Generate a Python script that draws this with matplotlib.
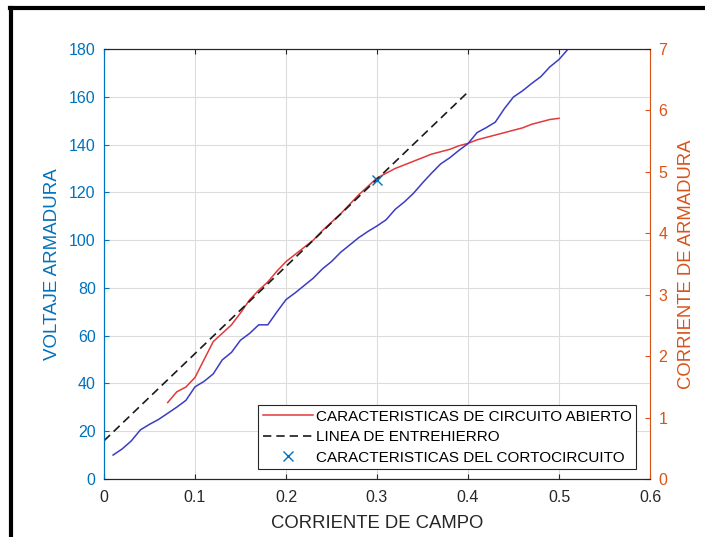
import matplotlib.pyplot as plt
from matplotlib.lines import Line2D

plt.rcParams['font.family'] = ['Liberation Sans', 'DejaVu Sans']

# corriente de campo (A)
campo = [0.01, 0.02, 0.03, 0.04, 0.05, 0.06, 0.07, 0.08, 0.09, 0.10,
         0.11, 0.12, 0.13, 0.14, 0.15, 0.16, 0.17, 0.18, 0.19, 0.20,
         0.21, 0.22, 0.23, 0.24, 0.25, 0.26, 0.27, 0.28, 0.29, 0.30,
         0.31, 0.32, 0.33, 0.34, 0.35, 0.36, 0.37, 0.38, 0.39, 0.40,
         0.41, 0.42, 0.43, 0.44, 0.45, 0.46, 0.47, 0.48, 0.49, 0.50, 0.51]

# corriente de armadura (cortocircuito), eje derecho
i_arm = [0.39, 0.49, 0.62, 0.80, 0.89, 0.97, 1.07, 1.17, 1.28, 1.50,
         1.59, 1.71, 1.94, 2.06, 2.26, 2.37, 2.51, 2.51, 2.72, 2.92,
         3.03, 3.15, 3.27, 3.42, 3.54, 3.69, 3.81, 3.93, 4.03, 4.12,
         4.22, 4.39, 4.51, 4.65, 4.82, 4.98, 5.13, 5.23, 5.35, 5.46,
         5.64, 5.72, 5.81, 6.03, 6.22, 6.32, 6.44, 6.55, 6.71, 6.83, 7.0]

# circuito abierto
campo_ca = [0.07, 0.08, 0.09, 0.10, 0.11, 0.12, 0.13, 0.14, 0.15, 0.16,
            0.17, 0.18, 0.19, 0.20, 0.21, 0.22, 0.23, 0.24, 0.25, 0.26,
            0.27, 0.28, 0.29, 0.30, 0.31, 0.32, 0.33, 0.34, 0.35, 0.36,
            0.37, 0.38, 0.39, 0.40, 0.41, 0.42, 0.43, 0.44, 0.45, 0.46,
            0.47, 0.48, 0.49, 0.50]
v_ca = [32, 36.5, 38.5, 42.5, 50, 57.5, 61, 64.5, 69.5, 75,
        79, 82.5, 87, 91, 94, 97, 100, 104, 107.5, 111,
        115, 119, 122.5, 126, 128, 130, 131.5, 133, 134.5, 136,
        137, 138, 139.5, 140.5, 142, 143, 144, 145, 146, 147,
        148.5, 149.5, 150.5, 151]

# linea de entrehierro
campo_eh = [0, 0.4]
v_eh = [16, 162]

# punto de cortocircuito
x_cc = [0.3]
y_cc = [125]

azul = '#0072BD'
naranja = '#D95319'

fig = plt.figure(figsize=(7.05, 5.37), dpi=100)
ax = fig.add_axes([0.1475, 0.108, 0.7745, 0.8007])
ax2 = ax.twinx()

l1, = ax.plot(campo_ca, v_ca, color='#e3383c', lw=1.1,
              label='CARACTERISTICAS DE CIRCUITO ABIERTO')
l2, = ax.plot(campo_eh, v_eh, color='#1a1a1a', lw=1.2, linestyle=(0, (5, 3)),
              label='LINEA DE ENTREHIERRO')
l3, = ax.plot(x_cc, y_cc, linestyle='none', marker='x', color=azul,
              markersize=7, mew=1.0, label='CARACTERISTICAS DEL CORTOCIRCUITO')
ax2.plot(campo, i_arm, color='#3c3cc4', lw=1.1)

ax.set_xlim(0, 0.6)
ax.set_ylim(0, 180)
ax2.set_ylim(0, 7)
ax.set_xticks([0, 0.1, 0.2, 0.3, 0.4, 0.5, 0.6])
ax.set_xticklabels(['0', '0.1', '0.2', '0.3', '0.4', '0.5', '0.6'])
ax.set_yticks(range(0, 181, 20))
ax2.set_yticks(range(0, 8))

ax.grid(True, color='#dcdcdc', lw=0.8)
ax.set_axisbelow(True)

ax.tick_params(axis='x', direction='in', top=True, labelsize=11.5, colors='#262626', pad=8)
ax.tick_params(axis='y', direction='in', labelsize=11.5, colors=azul, pad=6)
ax2.tick_params(axis='y', direction='in', labelsize=11.5, colors=naranja, pad=6)

for s in ['top', 'bottom']:
    ax.spines[s].set_color('#262626')
    ax2.spines[s].set_color('#262626')
ax.spines['left'].set_color(azul)
ax2.spines['left'].set_color(azul)
ax2.spines['right'].set_color(naranja)
ax.spines['right'].set_visible(False)

ax.set_xlabel('CORRIENTE DE CAMPO', fontsize=13.3, color='#262626', labelpad=7)
ax.set_ylabel('VOLTAJE ARMADURA', fontsize=13.5, color=azul, labelpad=6)
ax2.set_ylabel('CORRIENTE DE ARMADURA', fontsize=13.3, color=naranja, labelpad=8)

leg = ax.legend(handles=[l1, l2, l3], loc='lower left',
                bbox_to_anchor=(0.282, 0.023), fontsize=11,
                handlelength=3.3, handletextpad=0.2, borderpad=0.3,
                labelspacing=0.42, fancybox=False, framealpha=1,
                edgecolor='#262626', borderaxespad=0)
leg.get_frame().set_linewidth(0.8)

# marco negro de la captura
fig.add_artist(Line2D([0.0142, 1], [0.985, 0.985], color='k', lw=3, transform=fig.transFigure))
fig.add_artist(Line2D([0.0157, 0.0157], [0, 0.985], color='k', lw=3, transform=fig.transFigure))

plt.savefig('out.png', dpi=100)
